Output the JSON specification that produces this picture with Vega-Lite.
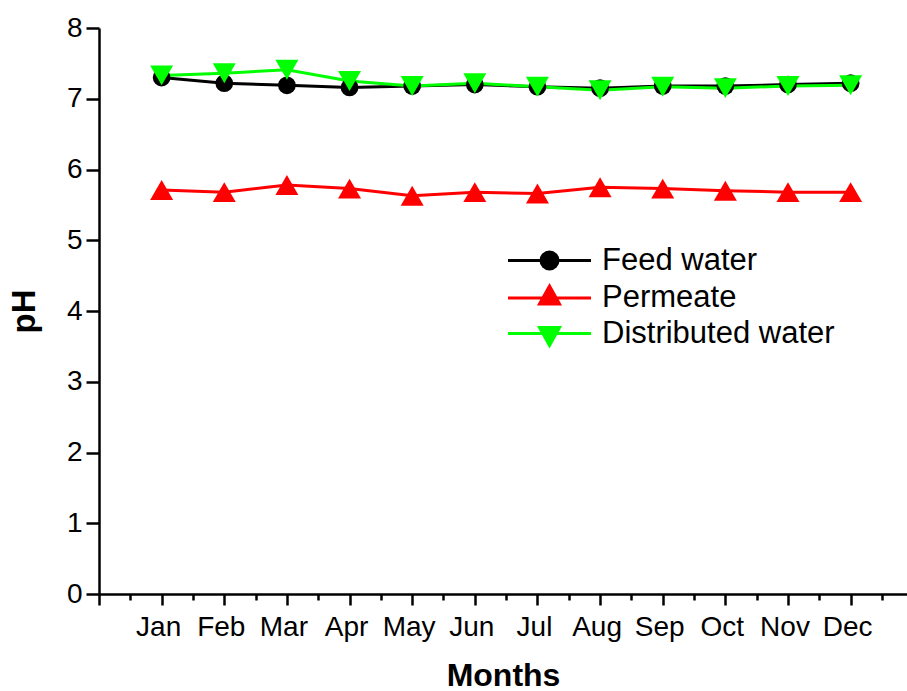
{
  "$schema": "https://vega.github.io/schema/vega-lite/v6.json",
  "width": 808,
  "height": 566,
  "autosize": {"type": "none"},
  "padding": {"left": 99, "top": 28, "right": 0, "bottom": 97},
  "background": "white",
  "config": {
    "view": {"stroke": null},
    "font": "Liberation Sans",
    "axis": {
      "grid": false,
      "domainColor": "black",
      "tickColor": "black",
      "labelColor": "black",
      "titleColor": "black",
      "domainWidth": 2.5,
      "tickWidth": 2.5,
      "labelFont": "Liberation Sans",
      "titleFont": "Liberation Sans",
      "labelFontSize": 28,
      "titleFontSize": 33,
      "titleFontWeight": "bold"
    }
  },
  "data": {
    "values": [
      {"month": 1, "series": "Feed water", "pH": 7.30},
      {"month": 2, "series": "Feed water", "pH": 7.22},
      {"month": 3, "series": "Feed water", "pH": 7.19},
      {"month": 4, "series": "Feed water", "pH": 7.16},
      {"month": 5, "series": "Feed water", "pH": 7.18},
      {"month": 6, "series": "Feed water", "pH": 7.20},
      {"month": 7, "series": "Feed water", "pH": 7.17},
      {"month": 8, "series": "Feed water", "pH": 7.15},
      {"month": 9, "series": "Feed water", "pH": 7.18},
      {"month": 10, "series": "Feed water", "pH": 7.18},
      {"month": 11, "series": "Feed water", "pH": 7.20},
      {"month": 12, "series": "Feed water", "pH": 7.22},
      {"month": 1, "series": "Permeate", "pH": 5.71},
      {"month": 2, "series": "Permeate", "pH": 5.68},
      {"month": 3, "series": "Permeate", "pH": 5.78},
      {"month": 4, "series": "Permeate", "pH": 5.73},
      {"month": 5, "series": "Permeate", "pH": 5.63},
      {"month": 6, "series": "Permeate", "pH": 5.68},
      {"month": 7, "series": "Permeate", "pH": 5.66},
      {"month": 8, "series": "Permeate", "pH": 5.75},
      {"month": 9, "series": "Permeate", "pH": 5.73},
      {"month": 10, "series": "Permeate", "pH": 5.70},
      {"month": 11, "series": "Permeate", "pH": 5.68},
      {"month": 12, "series": "Permeate", "pH": 5.68},
      {"month": 1, "series": "Distributed water", "pH": 7.33},
      {"month": 2, "series": "Distributed water", "pH": 7.36},
      {"month": 3, "series": "Distributed water", "pH": 7.41},
      {"month": 4, "series": "Distributed water", "pH": 7.25},
      {"month": 5, "series": "Distributed water", "pH": 7.18},
      {"month": 6, "series": "Distributed water", "pH": 7.22},
      {"month": 7, "series": "Distributed water", "pH": 7.17},
      {"month": 8, "series": "Distributed water", "pH": 7.12},
      {"month": 9, "series": "Distributed water", "pH": 7.17},
      {"month": 10, "series": "Distributed water", "pH": 7.15},
      {"month": 11, "series": "Distributed water", "pH": 7.18},
      {"month": 12, "series": "Distributed water", "pH": 7.19}
    ]
  },
  "encoding": {
    "x": {
      "field": "month",
      "type": "quantitative",
      "scale": {"domain": [0, 12.9], "nice": false, "zero": false},
      "axis": {
        "title": "Months",
        "values": [0, 0.5, 1, 1.5, 2, 2.5, 3, 3.5, 4, 4.5, 5, 5.5, 6, 6.5, 7, 7.5, 8, 8.5, 9, 9.5, 10, 10.5, 11, 11.5, 12, 12.5],
        "labelExpr": "(datum.value % 1 === 0 && datum.value >= 1) ? ['Jan','Feb','Mar','Apr','May','Jun','Jul','Aug','Sep','Oct','Nov','Dec'][datum.value - 1] : ''",
        "tickSize": {"condition": {"test": "datum.value % 1 !== 0", "value": 6}, "value": 11},
        "labelPadding": 8,
        "labelOffset": -3.5,
        "labelFlush": false,
        "labelOverlap": false,
        "titlePadding": 19,
        "titleFontSize": 32
      }
    },
    "y": {
      "field": "pH",
      "type": "quantitative",
      "scale": {"domain": [0, 8], "nice": false},
      "axis": {
        "title": "pH",
        "values": [0, 1, 2, 3, 4, 5, 6, 7, 8],
        "tickSize": 13,
        "labelPadding": 4,
        "titlePadding": 25
      }
    },
    "color": {
      "field": "series",
      "type": "nominal",
      "scale": {"domain": ["Feed water", "Permeate", "Distributed water"], "range": ["#000000", "#FF0000", "#00FF00"]},
      "legend": {
        "title": null,
        "orient": "none",
        "legendX": 435,
        "legendY": 217,
        "padding": 0,
        "labelFont": "Liberation Sans",
        "labelFontSize": 31,
        "labelColor": "black",
        "labelOffset": 37,
        "labelLimit": 0,
        "rowPadding": 3.5,
        "symbolSize": 400,
        "symbolStrokeWidth": 3,
        "symbolOpacity": 1,
        "encode": {
          "symbols": {
            "update": {
              "shape": {"signal": "datum.value === 'Feed water' ? 'M-4.15,0H4.15M0.85,0A0.85,0.85,0,1,1,-0.85,0A0.85,0.85,0,1,1,0.85,0Z' : datum.value === 'Permeate' ? 'M-4.15,0H4.15M0,-1.2L1.0,0.6L-1.0,0.6Z' : 'M-4.15,0H4.15M0,1.2L1.0,-0.6L-1.0,-0.6Z'"},
              "fill": {"signal": "datum.value === 'Feed water' ? '#000000' : datum.value === 'Permeate' ? '#FF0000' : '#00FF00'"},
              "stroke": {"signal": "datum.value === 'Feed water' ? '#000000' : datum.value === 'Permeate' ? '#FF0000' : '#00FF00'"},
              "strokeWidth": {"value": 3},
              "opacity": {"value": 1}
            }
          }
        }
      }
    }
  },
  "layer": [
    {
      "mark": {"type": "line", "strokeWidth": 3}
    },
    {
      "mark": {"type": "point", "filled": true, "opacity": 1},
      "encoding": {
        "shape": {
          "condition": [
            {"test": "datum.series === 'Feed water'", "value": "circle"},
            {"test": "datum.series === 'Permeate'", "value": "triangle-up"}
          ],
          "value": "triangle-down"
        },
        "size": {
          "condition": {"test": "datum.series === 'Feed water'", "value": 314},
          "value": 529
        }
      }
    }
  ]
}
